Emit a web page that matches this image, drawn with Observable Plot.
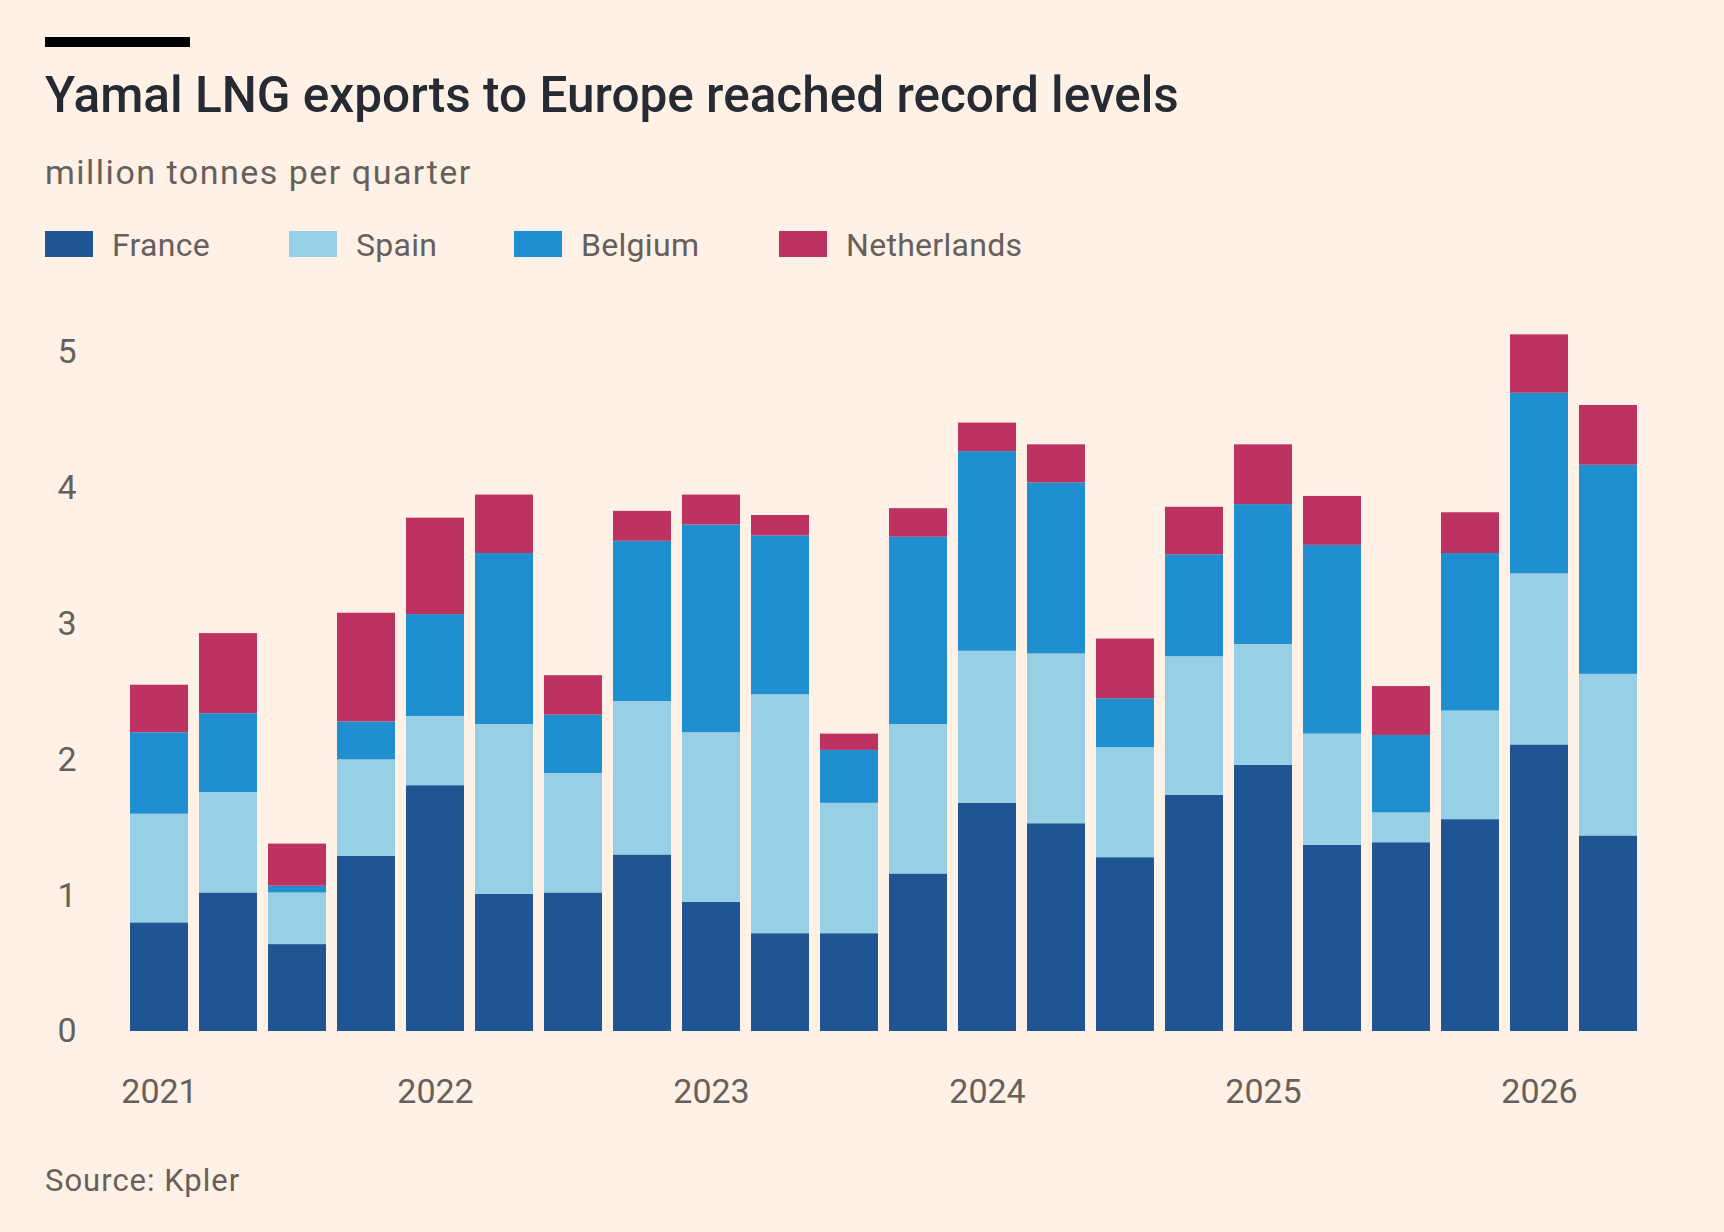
<!DOCTYPE html>
<html>
<head>
<meta charset="utf-8">
<script src="https://cdn.jsdelivr.net/npm/d3@7"></script>
<script src="https://cdn.jsdelivr.net/npm/@observablehq/plot@0.6"></script>
<style>
  html, body { margin: 0; padding: 0; background: #fff1e5; }
  #wrap { position: relative; width: 1724px; height: 1232px; background: #fff1e5; font-family: Roboto, "Open Sans", sans-serif; overflow: hidden; }
  .abs { position: absolute; line-height: 1; white-space: nowrap; }
  #rule { left: 45px; top: 37px; width: 145px; height: 10px; background: #000; }
  #title { left: 45px; top: 71px; font-size: 49.5px; font-weight: 500; color: #262a33; letter-spacing: 0px; }
  #subtitle { left: 45px; top: 155px; font-size: 34px; letter-spacing: 1.5px; color: #66605c; }
  #legend { left: 0; top: 229px; font-size: 32px; letter-spacing: 0.3px; color: #66605c; }
  .sw { position: absolute; top: 2px; width: 48px; height: 26px; }
  .lab { position: absolute; top: 0; }
  #source { left: 45px; top: 1165px; font-size: 31px; letter-spacing: 1px; color: #66605c; }
  #chart { position: absolute; left: 0; top: 280px; }
</style>
</head>
<body>
<div id="wrap">
  <div id="rule" class="abs"></div>
  <div id="title" class="abs">Yamal LNG exports to Europe reached record levels</div>
  <div id="subtitle" class="abs">million tonnes per quarter</div>
  <div id="legend" class="abs"></div>
  <div id="chart"></div>
  <div id="source" class="abs">Source: Kpler</div>
</div>
<script>
// Quarters (x categories)
const quarters = [
  "2021 Q1","2021 Q2","2021 Q3","2021 Q4",
  "2022 Q1","2022 Q2","2022 Q3","2022 Q4",
  "2023 Q1","2023 Q2","2023 Q3","2023 Q4",
  "2024 Q1","2024 Q2","2024 Q3","2024 Q4",
  "2025 Q1","2025 Q2","2025 Q3","2025 Q4",
  "2026 Q1","2026 Q2"
];
const countries = ["France", "Spain", "Belgium", "Netherlands"];
const colors = ["#1f5592", "#97cfe6", "#1f8fd0", "#bd3260"];

// million tonnes per quarter, by destination
const france      = [0.80, 1.02, 0.64, 1.29, 1.81, 1.01, 1.02, 1.30, 0.95, 0.72, 0.72, 1.16, 1.68, 1.53, 1.28, 1.74, 1.96, 1.37, 1.39, 1.56, 2.11, 1.44];
const spain       = [0.80, 0.74, 0.38, 0.71, 0.51, 1.25, 0.88, 1.13, 1.25, 1.76, 0.96, 1.10, 1.12, 1.25, 0.81, 1.02, 0.89, 0.82, 0.22, 0.80, 1.26, 1.19];
const belgium     = [0.60, 0.58, 0.05, 0.28, 0.75, 1.26, 0.43, 1.18, 1.53, 1.17, 0.39, 1.38, 1.47, 1.26, 0.36, 0.75, 1.03, 1.39, 0.57, 1.16, 1.33, 1.54];
const netherlands = [0.35, 0.59, 0.31, 0.80, 0.71, 0.43, 0.29, 0.22, 0.22, 0.15, 0.12, 0.21, 0.21, 0.28, 0.44, 0.35, 0.44, 0.36, 0.36, 0.30, 0.43, 0.44];

const yTicks = [0, 1, 2, 3, 4, 5];
const yearTicks = ["2021 Q1", "2022 Q1", "2023 Q1", "2024 Q1", "2025 Q1", "2026 Q1"];

const series = [france, spain, belgium, netherlands];
const data = [];
quarters.forEach((q, i) => {
  countries.forEach((c, j) => data.push({quarter: q, country: c, value: series[j][i]}));
});

// Legend
const legend = document.getElementById("legend");
const legendX = [45, 289, 514, 779];
countries.forEach((c, j) => {
  const sw = document.createElement("div");
  sw.className = "sw";
  sw.style.left = legendX[j] + "px";
  sw.style.background = colors[j];
  legend.appendChild(sw);
  const lab = document.createElement("div");
  lab.className = "lab";
  lab.style.left = (legendX[j] + 67) + "px";
  lab.textContent = c;
  legend.appendChild(lab);
});

const chart = Plot.plot({
  width: 1724,
  height: 851,
  marginTop: 72,
  marginBottom: 100,
  marginLeft: 120,
  marginRight: 77,
  style: {background: "transparent", color: "#66605c", fontSize: "34px", fontFamily: "Roboto, 'Open Sans', sans-serif"},
  x: {domain: quarters, paddingInner: 0.16, paddingOuter: 0.08, align: 0.5, axis: null},
  y: {domain: [0, 5], axis: null},
  color: {domain: countries, range: colors},
  marks: [
    Plot.barY(data, {x: "quarter", y: "value", fill: "country"}),
    Plot.axisX({ticks: yearTicks, tickFormat: d => d.slice(0, 4), tickSize: 0, tickPadding: 47, label: null}),
    Plot.axisY({ticks: yTicks, tickFormat: d3.format("d"), tickSize: 0, tickPadding: 44, label: null})
  ]
});
document.getElementById("chart").appendChild(chart);
</script>
</body>
</html>
